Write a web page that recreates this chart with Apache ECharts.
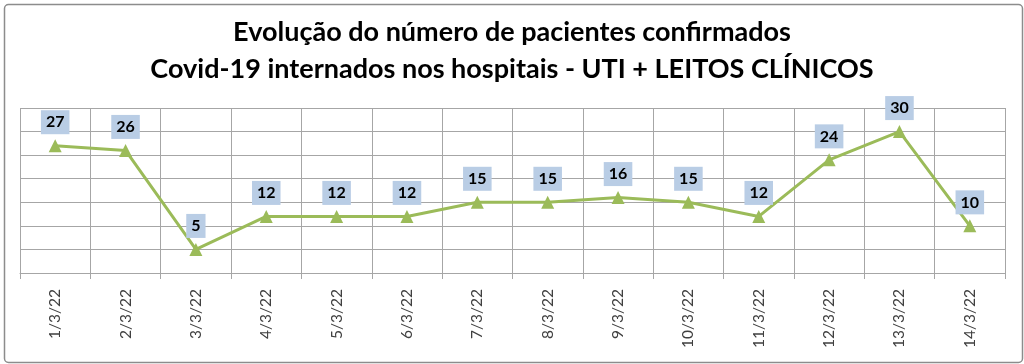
<!DOCTYPE html>
<html><head><meta charset="utf-8">
<script src="https://cdn.jsdelivr.net/npm/echarts@6/dist/echarts.min.js"></script>
<style>html,body{margin:0;padding:0;background:#fff}#c{width:1024px;height:364px}</style>
</head><body><div id="c"></div>
<script>
const categories = ['1/3/22','2/3/22','3/3/22','4/3/22','5/3/22','6/3/22','7/3/22','8/3/22','9/3/22','10/3/22','11/3/22','12/3/22','13/3/22','14/3/22'];
const values = [27,26,5,12,12,12,15,15,16,15,12,24,30,10];
const titleText = 'Evolução do número de pacientes confirmados\nCovid-19 internados nos hospitais - UTI + LEITOS CLÍNICOS';

const chart = echarts.init(document.getElementById('c'));
chart.setOption({
  animation: false,
  backgroundColor: '#fff',
  graphic: [{
    type: 'rect', left: 2, top: 2, shape: {width: 1018, height: 358, r: 4},
    style: {fill: 'none', stroke: '#8c8c8c', lineWidth: 1.5}, silent: true
  }],
  title: {
    text: titleText, left: 'center', top: 9,
    textStyle: {fontFamily: 'Lato', fontWeight: 'bold', fontSize: 27, lineHeight: 37, color: '#000'}
  },
  grid: {left: 20, right: 19, top: 108, bottom: 91, containLabel: false},
  xAxis: {
    type: 'category', data: categories, boundaryGap: true,
    axisLine: {show: true, lineStyle: {color: '#a6a6a6', width: 1}},
    axisTick: {show: true, length: 6, lineStyle: {color: '#a6a6a6'}},
    axisLabel: {rotate: 90, fontFamily: 'Lato', fontSize: 15.5, color: '#404040', margin: 16},
    splitLine: {show: true, lineStyle: {color: '#a6a6a6', width: 1}}
  },
  yAxis: {
    type: 'value', min: 0, max: 35, interval: 5,
    axisLine: {show: false}, axisTick: {show: false}, axisLabel: {show: false},
    splitLine: {show: true, lineStyle: {color: '#a6a6a6', width: 1}}
  },
  series: [{
    type: 'line', data: values,
    lineStyle: {color: '#9bbb59', width: 3},
    itemStyle: {color: '#9bbb59'},
    symbol: 'triangle', symbolSize: 13, showAllSymbol: true,
    label: {
      show: true, position: 'top', distance: 5,
      fontFamily: 'Lato', fontWeight: 'bold', fontSize: 16, color: '#000',
      backgroundColor: '#b9cde5', padding: [4, 5, 4, 5]
    }
  }]
});
</script></body></html>
